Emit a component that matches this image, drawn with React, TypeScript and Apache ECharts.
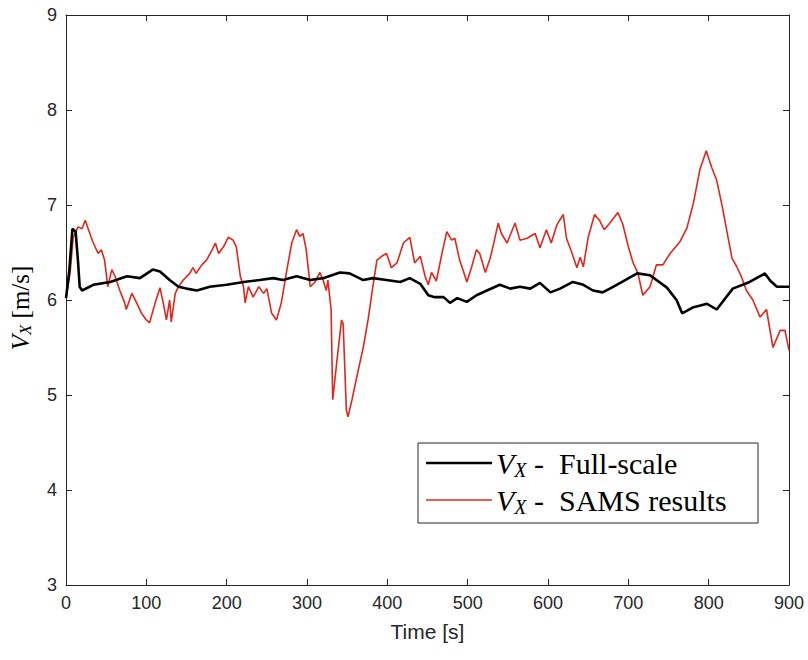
import React, { useEffect, useRef } from "react";
import * as echarts from "echarts";

const xTicks = [0, 100, 200, 300, 400, 500, 600, 700, 800, 900];
const yTicks = [3, 4, 5, 6, 7, 8, 9];

const fullScaleT = [0, 4, 8, 12, 15, 17, 20, 34, 55, 76, 92, 108, 117, 129, 140, 150, 163, 179, 200, 221, 241, 258, 270, 287, 304, 320, 341, 353, 370, 382, 399, 416, 428, 441, 451, 459, 470, 478, 487, 499, 511, 524, 540, 553, 565, 578, 590, 603, 615, 631, 644, 656, 668, 677, 690, 711, 727, 748, 760, 767, 780, 798, 810, 830, 851, 870, 877, 885, 900];
const fullScaleV = [6.02, 6.3, 6.75, 6.72, 6.4, 6.14, 6.1, 6.16, 6.19, 6.25, 6.23, 6.32, 6.3, 6.21, 6.14, 6.12, 6.1, 6.14, 6.16, 6.19, 6.21, 6.23, 6.21, 6.25, 6.21, 6.23, 6.29, 6.28, 6.21, 6.23, 6.21, 6.19, 6.23, 6.17, 6.05, 6.03, 6.03, 5.97, 6.02, 5.98, 6.05, 6.1, 6.16, 6.12, 6.14, 6.12, 6.18, 6.08, 6.12, 6.19, 6.16, 6.1, 6.08, 6.12, 6.18, 6.28, 6.26, 6.13, 6.0, 5.86, 5.92, 5.96, 5.9, 6.12, 6.19, 6.28, 6.2, 6.14, 6.14];

const samsT = [0, 5, 9, 15, 20, 24, 28, 34, 40, 44, 48, 52, 57, 61, 67, 73, 75, 82, 88, 94, 100, 104, 111, 117, 121, 125, 129, 131, 136, 140, 146, 154, 158, 162, 169, 175, 182, 186, 190, 196, 202, 208, 212, 217, 221, 223, 227, 233, 240, 246, 250, 256, 262, 268, 275, 281, 287, 291, 295, 299, 304, 310, 316, 320, 324, 326, 330, 332, 337, 343, 345, 349, 351, 356, 362, 370, 376, 382, 387, 393, 399, 405, 412, 420, 428, 434, 441, 447, 451, 455, 461, 468, 474, 480, 484, 490, 494, 499, 505, 511, 515, 522, 528, 532, 538, 542, 549, 559, 565, 574, 584, 590, 598, 604, 611, 619, 623, 630, 636, 640, 644, 650, 658, 664, 670, 677, 687, 693, 700, 706, 712, 718, 727, 735, 743, 752, 764, 773, 781, 789, 797, 804, 810, 817, 823, 829, 835, 841, 847, 855, 864, 872, 880, 889, 895, 900];
const samsV = [6.02, 6.28, 6.66, 6.77, 6.75, 6.84, 6.74, 6.6, 6.49, 6.53, 6.42, 6.14, 6.32, 6.25, 6.1, 5.97, 5.9, 6.07, 5.97, 5.86, 5.79, 5.76, 5.97, 6.13, 5.97, 5.79, 6.0, 5.77, 6.07, 6.14, 6.21, 6.28, 6.34, 6.28, 6.37, 6.42, 6.53, 6.6, 6.49, 6.56, 6.66, 6.63, 6.56, 6.25, 6.14, 5.97, 6.14, 6.03, 6.14, 6.07, 6.12, 5.86, 5.79, 5.97, 6.32, 6.6, 6.74, 6.67, 6.7, 6.53, 6.14, 6.19, 6.29, 6.21, 6.1, 6.21, 5.9, 4.95, 5.34, 5.79, 5.75, 4.84, 4.77, 4.95, 5.19, 5.5, 5.79, 6.14, 6.42, 6.46, 6.49, 6.34, 6.39, 6.6, 6.66, 6.39, 6.46, 6.25, 6.16, 6.29, 6.2, 6.49, 6.72, 6.63, 6.65, 6.42, 6.32, 6.19, 6.35, 6.53, 6.49, 6.29, 6.44, 6.58, 6.81, 6.7, 6.6, 6.81, 6.63, 6.65, 6.7, 6.55, 6.74, 6.6, 6.79, 6.9, 6.65, 6.49, 6.34, 6.45, 6.35, 6.66, 6.9, 6.84, 6.74, 6.81, 6.92, 6.8, 6.56, 6.39, 6.28, 6.05, 6.14, 6.37, 6.37, 6.49, 6.61, 6.76, 7.02, 7.37, 7.57, 7.39, 7.26, 6.98, 6.71, 6.44, 6.35, 6.24, 6.1, 6.0, 5.82, 5.9, 5.5, 5.68, 5.68, 5.47];

const legendNames = ["Full-scale", "SAMS results"];
const BLACK = "#000000";
const RED = "#e3261b";
const AXIS = "#262626";

export default function App() {
  const ref = useRef<HTMLDivElement>(null);
  useEffect(() => {
    if (!ref.current) return;
    const chart = echarts.init(ref.current, null, { renderer: "svg" });
    const xMin = xTicks[0], xMax = xTicks[xTicks.length - 1];
    const yMin = yTicks[0], yMax = yTicks[yTicks.length - 1];
    const axisCommon = {
      axisLine: { show: true, onZero: false, lineStyle: { color: AXIS, width: 1 } },
      axisTick: { show: true, inside: true, length: 6, lineStyle: { color: AXIS } },
      splitLine: { show: false },
    };
    const labelStyle = { color: AXIS, fontFamily: "Liberation Sans, Arial, sans-serif", fontSize: 18 };
    const serif = "Liberation Serif, serif";
    const richLegend = {
      v: { fontFamily: serif, fontStyle: "italic", fontSize: 30, color: "#111" },
      sub: { fontFamily: serif, fontStyle: "italic", fontSize: 20, color: "#111", verticalAlign: "bottom", padding: [14, 0, 0, 0] },
      t: { fontFamily: serif, fontSize: 30, color: "#111" },
    };
    const richAxis = {
      v: { fontFamily: serif, fontStyle: "italic", fontSize: 25, color: "#222" },
      sub: { fontFamily: serif, fontStyle: "italic", fontSize: 17, color: "#222", verticalAlign: "bottom", padding: [11, 0, 0, 0] },
      t: { fontFamily: serif, fontSize: 25, color: "#222" },
    };
    chart.setOption({
      animation: false,
      backgroundColor: "#ffffff",
      grid: { left: 66, right: 19, top: 15, bottom: 75, containLabel: false },
      xAxis: [
        {
          type: "value", min: xMin, max: xMax, interval: 100, position: "bottom",
          ...axisCommon,
          axisLabel: { ...labelStyle, margin: 9 },
          name: "Time [s]", nameLocation: "middle", nameGap: 36,
          nameTextStyle: { color: AXIS, fontFamily: "Liberation Sans, Arial, sans-serif", fontSize: 21 },
        },
        {
          type: "value", min: xMin, max: xMax, interval: 100, position: "top",
          ...axisCommon, axisLabel: { show: false },
        },
      ],
      yAxis: [
        {
          type: "value", min: yMin, max: yMax, interval: 1, position: "left",
          ...axisCommon,
          axisLabel: { ...labelStyle, margin: 9 },
        },
        {
          type: "value", min: yMin, max: yMax, interval: 1, position: "right",
          ...axisCommon, axisLabel: { show: false },
        },
      ],
      series: [
        {
          name: legendNames[0], type: "line", showSymbol: false, symbol: "none",
          data: fullScaleT.map((t, i) => [t, fullScaleV[i]]),
          lineStyle: { color: BLACK, width: 2.6 }, z: 3,
        },
        {
          name: legendNames[1], type: "line", showSymbol: false, symbol: "none",
          data: samsT.map((t, i) => [t, samsV[i]]),
          lineStyle: { color: RED, width: 1.6 }, z: 2,
        },
      ],
      graphic: [
        {
          type: "text", rotation: Math.PI / 2,
          style: { text: "{v|V}{sub|X}{t| [m/s]}", rich: richAxis, align: "center", verticalAlign: "middle" },
          x: 20, y: 308, z: 10,
        },
        {
          type: "group", x: 418, y: 443, z: 20,
          children: [
            { type: "rect", shape: { x: 0, y: 0, width: 340, height: 80 }, style: { fill: "#fff", stroke: AXIS, lineWidth: 1 } },
            { type: "line", shape: { x1: 8, y1: 20, x2: 74, y2: 20 }, style: { stroke: BLACK, lineWidth: 2.6 } },
            { type: "line", shape: { x1: 8, y1: 57, x2: 74, y2: 57 }, style: { stroke: RED, lineWidth: 1.6 } },
            { type: "text", x: 78, y: 20, style: { text: "{v|V}{sub|X}{t| -  " + legendNames[0] + "}", rich: richLegend, verticalAlign: "middle" } },
            { type: "text", x: 78, y: 57, style: { text: "{v|V}{sub|X}{t| -  " + legendNames[1] + "}", rich: richLegend, verticalAlign: "middle" } },
          ],
        },
      ],
    });
    return () => chart.dispose();
  }, []);
  return (
    <div
      ref={ref}
      style={{ position: "fixed", left: 0, top: 0, width: 808, height: 660, background: "#fff" }}
    />
  );
}
